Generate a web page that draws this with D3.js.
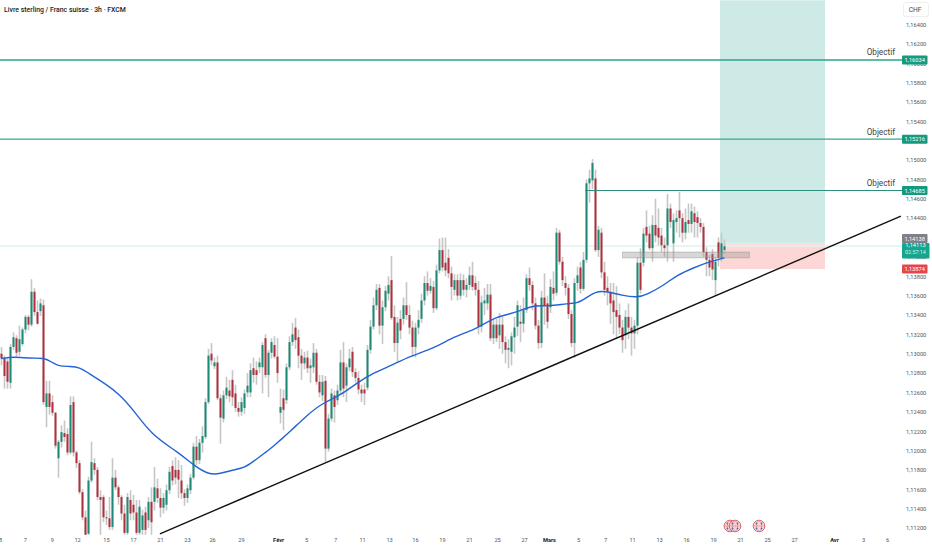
<!DOCTYPE html>
<html><head><meta charset="utf-8">
<script src="https://cdn.jsdelivr.net/npm/d3@7/dist/d3.min.js"></script>
<style>html,body{margin:0;padding:0;background:#fff}svg{display:block;font-family:Roboto,sans-serif}</style>
</head><body><svg id="c" width="932" height="550"></svg>
<script>
const priceBase = 1.1, pip = 0.0001;
const opensPips = [300,295,292,270,307,316,302,310,325,338,330,364,343,344,350,245,259,250,239,192,209,218,217,198,250,198,187,157,131,114,169,187,180,152,152,131,130,121,172,162,152,135,115,149,144,136,115,118,136,128,147,147,161,151,141,144,159,184,180,180,169,156,151,159,172,204,190,208,214,250,300,287,291,254,233,257,262,273,259,244,240,244,260,260,285,283,286,286,316,278,301,309,297,239,254,252,286,312,327,317,298,290,296,285,286,301,271,257,272,202,233,257,252,262,291,267,286,302,281,275,263,263,265,304,328,350,368,329,348,362,376,338,311,336,336,350,340,327,307,327,336,355,373,365,369,347,386,407,394,399,383,366,376,360,376,366,371,381,373,366,328,352,352,361,316,330,319,330,312,304,302,317,328,333,331,345,378,371,352,329,311,358,352,348,368,363,425,395,373,368,341,311,373,389,367,397,476,479,481,407,425,384,368,364,355,345,340,327,319,338,327,321,329,394,394,431,424,409,433,430,422,412,412,450,414,436,448,440,425,438,434,445,441,435,431,405,397,403,376,415,398,407];
const closesPips = [295,277,271,307,317,301,315,325,338,330,364,343,331,352,250,259,245,239,205,209,219,214,198,247,198,187,157,131,113,169,188,180,152,149,131,130,121,172,162,152,135,115,152,135,136,115,142,133,118,147,126,162,151,141,151,159,178,169,172,170,156,151,161,172,204,190,208,215,250,298,293,291,254,234,257,265,256,255,244,240,250,259,267,283,278,278,291,309,278,301,312,297,280,245,242,286,312,320,314,298,290,296,285,288,301,271,260,271,202,233,259,245,262,291,264,286,295,281,275,263,259,259,304,328,350,366,329,348,365,371,337,311,332,324,350,340,327,307,327,335,355,373,365,370,347,386,407,389,386,383,369,376,360,376,366,371,381,369,366,328,353,355,361,316,330,316,330,312,304,306,318,327,350,331,345,378,371,352,329,311,358,350,333,369,362,425,395,376,368,341,311,373,381,367,397,476,481,497,407,428,384,366,364,352,343,338,327,314,338,327,321,329,394,366,424,422,409,433,422,420,412,409,450,436,438,440,440,425,436,434,447,436,435,431,405,397,389,387,395,399,414,411];
const highsPips = [307,298,295,310,322,319,329,327,340,340,377,368,355,357,356,272,272,257,240,211,226,231,223,256,256,200,190,160,138,173,209,192,183,159,154,138,152,192,180,164,154,144,156,159,154,149,149,139,142,152,162,183,171,161,156,165,183,190,193,190,185,160,165,176,208,215,212,225,254,305,311,296,298,258,262,276,273,283,268,250,255,263,280,290,296,292,296,312,320,304,316,318,316,264,263,290,318,332,337,325,305,302,303,295,311,305,278,278,277,238,264,262,268,304,312,290,305,307,285,282,268,270,309,335,358,372,372,355,370,380,401,350,338,345,358,374,350,334,332,345,362,380,385,378,375,392,419,420,420,408,390,382,382,383,382,378,390,395,380,375,360,368,372,372,335,336,342,338,318,315,322,338,355,350,358,382,389,375,358,335,365,383,360,377,385,430,428,400,380,372,345,378,390,395,405,480,490,501,490,432,430,395,380,373,373,370,352,335,345,352,338,335,400,409,430,448,432,443,460,450,430,420,465,455,445,448,467,445,450,455,455,452,447,440,435,410,402,408,400,420,425,418];
const lowsPips = [288,264,264,264,304,297,298,308,321,324,328,339,330,339,247,224,237,236,202,172,203,209,195,196,194,182,155,128,113,113,167,175,149,113,126,123,118,118,159,144,128,113,113,128,128,113,113,113,113,120,113,138,146,131,135,138,155,164,165,151,150,143,146,155,170,185,186,198,212,248,288,284,252,207,229,253,250,246,240,235,236,238,255,255,270,268,280,259,275,255,295,295,270,228,221,248,283,308,305,285,273,284,280,270,280,268,255,251,188,199,230,229,247,258,255,250,282,276,270,258,250,247,262,300,325,345,320,310,344,355,335,302,291,315,330,335,320,297,296,320,332,350,360,362,342,345,383,385,380,378,355,360,355,356,360,358,366,365,360,320,322,340,345,313,310,312,305,300,290,285,288,300,318,312,322,342,365,345,325,305,306,330,326,342,355,360,392,370,360,336,307,296,365,362,365,394,456,470,405,400,378,360,350,331,320,315,320,301,305,315,298,305,320,362,390,415,407,395,415,412,405,400,395,430,395,425,420,415,418,425,425,420,420,425,400,380,380,376,360,390,395,403];
// Moving average: candle index and value in pips
const maIndex = [0,4,10,14,17,19,23,26,29,31,35,39,44,50,59,64,69,73,77,81,84,89,93,96,102,107,113,119,124,130,136,145,151,157,161,165,171,177,182,189,192,195,198,201,207,212,215,221,225,231,235,241];
const maPips = [295,297,295,296,291,287,287,286,280,276,268,259,242,216,198,185,175,176,180,182,189,200,211,219,237,249,257,271,280,288,297,307,318,324,331,338,342,350,349,352,352,358,364,365,360,358,361,371,381,389,394,399];
// Price axis
const priceTicks = [1.164,1.162,1.16,1.158,1.156,1.154,1.152,1.15,1.148,1.146,1.144,1.142,1.14,1.138,1.136,1.134,1.132,1.13,1.128,1.126,1.124,1.122,1.12,1.118,1.116,1.114,1.112];
// Time axis: candle index, label
const timeIndex = [-0.5,7.8,16.8,25.2,34.8,43.8,52.8,61.8,70.2,79.8,92.2,101.5,111.2,120.2,129.2,137.8,146.8,155.8,165.2,174.2,182.5,192.2,201.2,210.2,219.2,228.2,237.2,246.2,255.2,264.2,277.5,287.2,295.2];
const timeLabels = ["8","7","9","12","15","17","21","23","26","29","Févr","5","7","11","13","16","19","21","25","27","Mars","5","7","11","13","16","19","21","25","27","Avr","3","6"];
const timeBold = ["Févr","Mars","Avr"];
// Drawings
const trendIndex = [52.8,299.8], trendPrice = [1.1114,1.1442];
const targets = [1.16034,1.15216,1.14685];
const targetStart = [-1,-1,194.5];
const targetLabel = "Objectif";
const boxIndex = [239.5,274.5], entryPrice = 1.14137, stopPrice = 1.13874, topPrice = 1.1665;
const zoneIndex = [207,249.3], zonePrice = [1.1405,1.1399];
const lastPrice = 1.14113, lastHigh = 1.14138, countdown = "02:57:14";
const eventIndex = [242.8,244.5,252.5];

const price = v => priceBase + v * pip;
const W = 932, H = 550, axisX = 902, paneBottom = 535;
const svg = d3.select("#c");
const x = d3.scaleLinear().domain([0,300]).range([1.5,901.5]);
const y = d3.scaleLinear().domain([1.164,1.112]).range([24.5,528]);
const fmt = d => d.toFixed(5).replace(".", ",");
const GREEN = "#1b8a76", RED = "#ad323c";

const defs = svg.append("defs");
defs.append("clipPath").attr("id","pane").append("rect").attr("x",0).attr("y",0).attr("width",axisX).attr("height",paneBottom);
defs.append("filter").attr("id","soft").attr("x","-2%").attr("y","-2%").attr("width","104%").attr("height","104%")
  .append("feGaussianBlur").attr("stdDeviation",.3);
const pane = svg.append("g").attr("clip-path","url(#pane)");

// position boxes
pane.append("rect").attr("x",x(boxIndex[0])).attr("width",x(boxIndex[1])-x(boxIndex[0]))
  .attr("y",y(topPrice)).attr("height",y(entryPrice)-y(topPrice)).attr("fill","#cdeae6");
pane.append("rect").attr("x",x(boxIndex[0])).attr("width",x(boxIndex[1])-x(boxIndex[0]))
  .attr("y",y(entryPrice)).attr("height",y(stopPrice)-y(entryPrice)).attr("fill","#fcd7d5");
// last price line
pane.append("line").attr("x1",0).attr("x2",axisX).attr("y1",y(lastPrice)).attr("y2",y(lastPrice))
  .attr("stroke","#dff3ee").attr("stroke-width",1.5);

// candles
const candles = closesPips.map((c,i)=>({i,o:price(opensPips[i]),c:price(c),h:price(highsPips[i]),l:price(lowsPips[i])}));
const cg = pane.append("g").attr("filter","url(#soft)");
cg.append("g").selectAll("line").data(candles).join("line")
  .attr("x1",d=>x(d.i)).attr("x2",d=>x(d.i)).attr("y1",d=>y(d.h)).attr("y2",d=>y(d.l))
  .attr("stroke","#c6c6c6").attr("stroke-width",1.6);
cg.append("g").selectAll("rect").data(candles).join("rect")
  .attr("x",d=>x(d.i)-1).attr("width",2)
  .attr("y",d=>Math.min(y(d.o),y(d.c))).attr("height",d=>Math.max(1,Math.abs(y(d.o)-y(d.c))))
  .attr("fill",d=>d.c>=d.o?GREEN:RED);

// grey zone
pane.append("rect").attr("x",x(zoneIndex[0])).attr("width",x(zoneIndex[1])-x(zoneIndex[0]))
  .attr("y",y(zonePrice[0])).attr("height",y(zonePrice[1])-y(zonePrice[0]))
  .attr("fill","#9a9a9a").attr("fill-opacity",.4).attr("stroke","#8a8a8a").attr("stroke-opacity",.5).attr("stroke-width",.8);

// moving average
pane.append("path").datum(maIndex.map((k,n)=>[k,price(maPips[n])]))
  .attr("d",d3.line().x(d=>x(d[0])).y(d=>y(d[1])).curve(d3.curveBasis))
  .attr("fill","none").attr("stroke","#2463d6").attr("stroke-width",1.4);

// trend line
pane.append("line").attr("x1",x(trendIndex[0])).attr("y1",y(trendPrice[0])).attr("x2",x(trendIndex[1])).attr("y2",y(trendPrice[1]))
  .attr("stroke","#111").attr("stroke-width",1.4);

// targets
const targetColors = ["#2ba38c","#35a892","#2c8f7c"];
targets.forEach((t,n)=>{
  const x0 = targetStart[n] < 0 ? 0 : x(targetStart[n]);
  pane.append("line").attr("x1",x0).attr("x2",axisX).attr("y1",y(t)).attr("y2",y(t))
    .attr("stroke",targetColors[n]).attr("stroke-width",n==2?1.1:1.4);
  svg.append("text").attr("x",895).attr("y",y(t)-4.5).attr("text-anchor","end")
    .attr("font-size",8.2).attr("fill","#444").text(targetLabel);
});

// event icons
const ev = svg.append("g");
eventIndex.forEach(k=>{
  const g = ev.append("g").attr("transform",`translate(${x(k)},526)`);
  g.append("circle").attr("r",5.8).attr("fill","#f8d3d4").attr("fill-opacity",.85).attr("stroke","#e4626a").attr("stroke-width",1);
  g.append("ellipse").attr("rx",2.6).attr("ry",5).attr("fill","none").attr("stroke","#d9808a").attr("stroke-width",.6);
  g.append("line").attr("x1",-5.5).attr("x2",5.5).attr("stroke","#d9808a").attr("stroke-width",.6);
  [[-2.5,-2.5],[2.5,-2.5],[-2.5,2.5],[2.5,2.5]].forEach(p=>
    g.append("circle").attr("cx",p[0]).attr("cy",p[1]).attr("r",.9).attr("fill","#3d74c9"));
});

// price axis
const ya = d3.axisRight(y).tickValues(priceTicks).tickFormat(fmt).tickSize(0).tickPadding(0);
svg.append("g").attr("transform","translate(906,0)").call(ya)
  .call(g=>g.select(".domain").remove())
  .call(g=>g.selectAll("text").attr("font-size",5.7).attr("font-family","Roboto").attr("fill","#555"));

// time axis
const xa = d3.axisBottom(x).tickValues(timeIndex).tickSize(0).tickPadding(0)
  .tickFormat((d,i)=>timeLabels[i]);
svg.append("g").attr("transform","translate(0,538)").call(xa)
  .call(g=>g.select(".domain").remove())
  .call(g=>g.selectAll("text").attr("font-size",5.7).attr("font-family","Roboto")
    .attr("font-weight",(d,i)=>timeBold.includes(timeLabels[i])?700:400)
    .attr("fill",(d,i)=>timeBold.includes(timeLabels[i])?"#222":"#555"));

// price badges
function badge(v,color,w,cy){
  const yy = cy===undefined ? y(v) : cy;
  svg.append("rect").attr("x",axisX).attr("y",yy-4.5).attr("width",w).attr("height",9).attr("rx",1).attr("fill",color);
  svg.append("text").attr("x",axisX+w/2).attr("y",yy+2).attr("text-anchor","middle")
    .attr("font-size",5.7).attr("fill","#fff").text(fmt(v));
}
targets.forEach(t=>badge(t,"#149a80",25.5));
badge(lastHigh,"#808088",25.5,238.5);
svg.append("rect").attr("x",axisX).attr("y",243).attr("width",27.5).attr("height",15.5).attr("rx",1).attr("fill","#17a58c");
svg.append("text").attr("x",axisX+13.5).attr("y",y(lastPrice)+1.5).attr("text-anchor","middle").attr("font-size",5.7).attr("fill","#fff").text(fmt(lastPrice));
svg.append("text").attr("x",axisX+13.5).attr("y",y(lastPrice)+8.5).attr("text-anchor","middle").attr("font-size",5.4).attr("fill","#d8f3ec").text(countdown);
badge(stopPrice,"#e2474f",25.5);

// currency box
svg.append("rect").attr("x",903.5).attr("y",2.5).attr("width",25).attr("height",14).attr("rx",2).attr("fill","#fff").attr("stroke","#eeeeee");
svg.append("text").attr("x",915).attr("y",12).attr("text-anchor","middle").attr("font-size",6.6).attr("fill","#444").text("CHF");

// title
svg.append("text").attr("x",4).attr("y",12).attr("font-size",6.9).attr("font-weight",500).attr("fill","#1a1d28")
  .text("Livre sterling / Franc suisse · 3h · FXCM");
</script></body></html>
